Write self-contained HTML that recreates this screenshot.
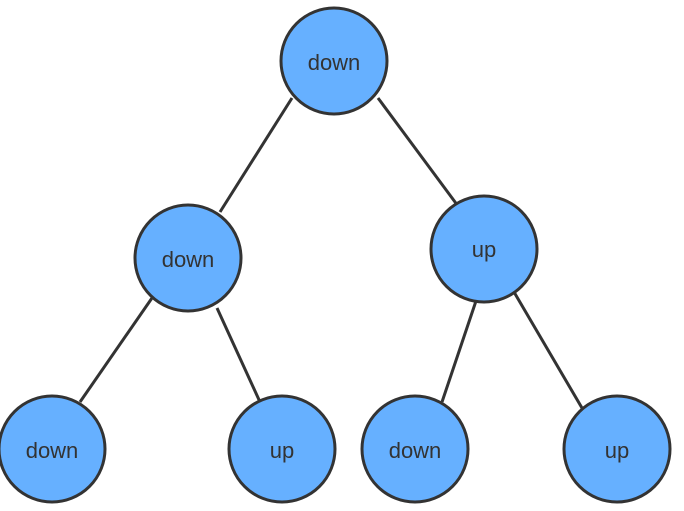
<!DOCTYPE html>
<html><head><style>body{margin:0;background:#fff}</style></head><body>
<svg width="684" height="506" xmlns="http://www.w3.org/2000/svg" font-family="Liberation Sans, sans-serif" font-size="22" fill="#333">
<g stroke="#333" stroke-width="3">
<line x1="292" y1="98" x2="220" y2="212"/>
<line x1="378" y1="98" x2="458" y2="206"/>
<line x1="152" y1="298" x2="80" y2="402"/>
<line x1="217" y1="308" x2="260" y2="402"/>
<line x1="477" y1="298" x2="442" y2="402"/>
<line x1="514" y1="292" x2="582" y2="408"/>
</g>
<g fill="#66b0ff" stroke="#333" stroke-width="3">
<circle cx="334" cy="61" r="53"/>
<circle cx="188" cy="258" r="53"/>
<circle cx="484" cy="249" r="53"/>
<circle cx="52" cy="449" r="53"/>
<circle cx="282" cy="449" r="53"/>
<circle cx="415" cy="449" r="53"/>
<circle cx="617" cy="449" r="53"/>
</g>
<g text-anchor="middle" fill="#333">
<text x="334" y="70">down</text>
<text x="188" y="267">down</text>
<text x="484" y="257">up</text>
<text x="52" y="458">down</text>
<text x="282" y="458">up</text>
<text x="415" y="458">down</text>
<text x="617" y="458">up</text>
</g>
</svg>
</body></html>
